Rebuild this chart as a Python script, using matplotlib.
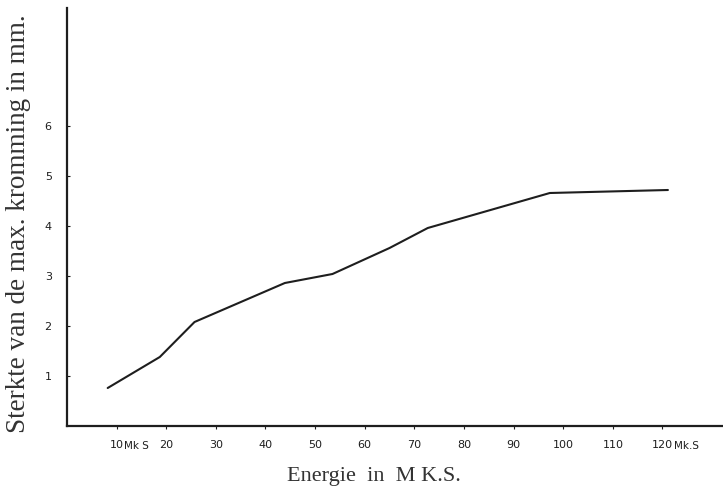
import matplotlib
matplotlib.use("Agg")
import matplotlib.pyplot as plt

# Measured curve: energy (M.K.S.) vs. strength of maximum curvature (mm)
energie = [8.2, 18.7, 25.7, 43.9, 53.5, 65.0, 72.7, 97.3, 121.1]
kromming = [0.76, 1.38, 2.08, 2.86, 3.04, 3.56, 3.96, 4.66, 4.72]

x_ticks = [10, 20, 30, 40, 50, 60, 70, 80, 90, 100, 110, 120]
x_labels = ["10", "20", "30", "40", "50", "60", "70", "80", "90", "100", "110", "120"]
y_ticks = [1, 2, 3, 4, 5, 6]
y_labels = ["1", "2", "3", "4", "5", "6"]

ink = "#1e1e1e"

fig = plt.figure(figsize=(7.23, 4.88), dpi=100)
ax = fig.add_axes([67 / 723, 62 / 488, 656 / 723, 418 / 488])

ax.plot(energie, kromming, color=ink, lw=1.5, solid_capstyle="round")

ax.set_xlim(0, 132.2)
ax.set_ylim(0, 8.36)

for side in ("top", "right"):
    ax.spines[side].set_visible(False)
ax.spines["left"].set_linewidth(1.6)
ax.spines["bottom"].set_linewidth(1.6)
ax.spines["left"].set_color(ink)
ax.spines["bottom"].set_color(ink)

ax.set_xticks(x_ticks)
ax.set_xticklabels(x_labels)
ax.set_yticks(y_ticks)
ax.set_yticklabels(y_labels)
ax.tick_params(axis="x", direction="out", length=2, width=0.8, pad=8,
               labelsize=8, colors=ink)
ax.tick_params(axis="y", direction="in", length=2, width=0.8, pad=11,
               labelsize=8, colors=ink)

# Unit annotations next to the first and last x tick labels
ax.annotate("Mk S", xy=(10, 0), xycoords="data", xytext=(5, -11),
            textcoords="offset points", ha="left", va="top", fontsize=7.5,
            color=ink)
ax.annotate("Mk.S", xy=(120, 0), xycoords="data", xytext=(8, -11),
            textcoords="offset points", ha="left", va="top", fontsize=7.5,
            color=ink)

ax.set_xlabel("Energie  in  M K.S.", family="Liberation Serif", fontsize=16,
              color="#333333")
ax.xaxis.set_label_coords((374 - 67) / 656, -(476 - 426) / 418)
ax.xaxis.label.set_va("center")

ax.set_ylabel("Sterkte van de max. kromming in mm.", family="Liberation Serif",
              fontsize=19.5, color="#333333")
ax.yaxis.set_label_coords(-(67 - 19) / 656, (426 - 224) / 418)
ax.yaxis.label.set_va("center")

fig.savefig("out.png", dpi=100, facecolor="white")
